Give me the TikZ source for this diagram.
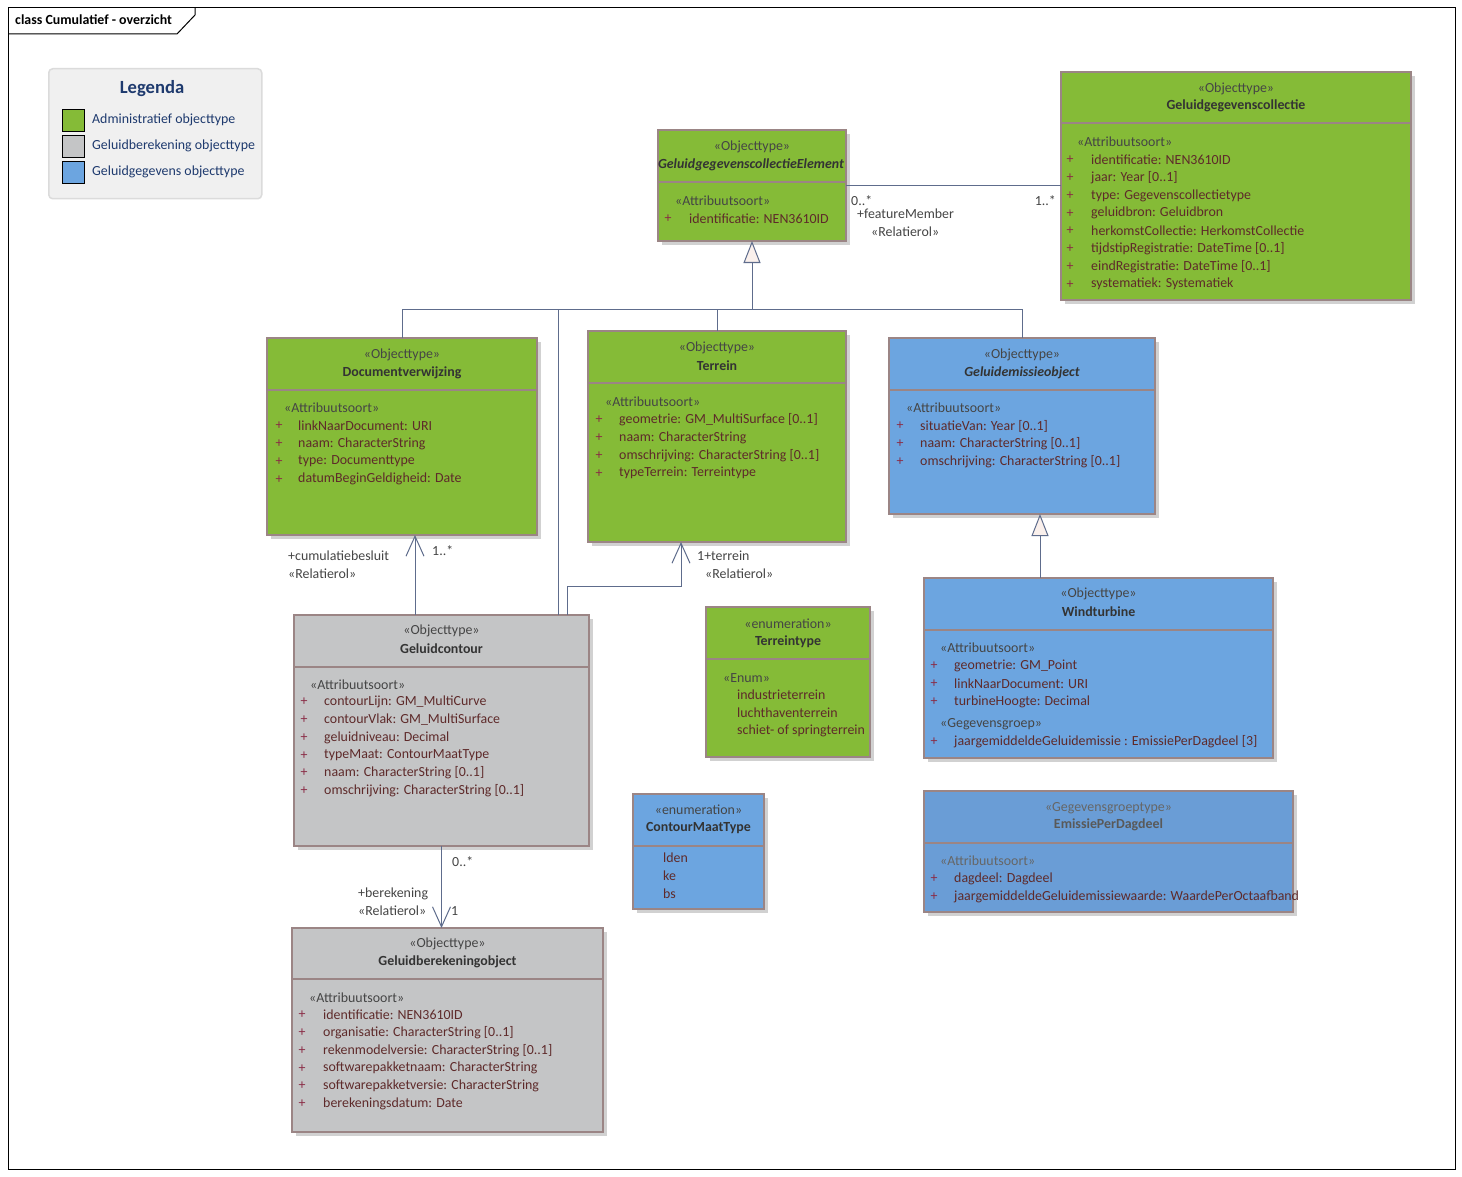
\documentclass[tikz,border=0pt]{standalone}
\usepackage{fontspec}
\setmainfont{Carlito}
\usetikzlibrary{arrows.meta,shadows,calc}
\definecolor{cgreen}{HTML}{85BB37}
\definecolor{cgrey}{HTML}{C4C5C6}
\definecolor{cblue}{HTML}{6CA5E0}
\definecolor{cbluetwo}{HTML}{6A9DD6}
\definecolor{cborder}{HTML}{9B8585}
\definecolor{cline}{HTML}{5E6C8C}
\definecolor{cattr}{HTML}{5E2A2A}
\definecolor{cplus}{HTML}{8A2B45}
\definecolor{cstereo}{HTML}{454545}
\definecolor{cname}{HTML}{333333}
\definecolor{cnavy}{HTML}{1E3A6E}
\definecolor{ctri}{HTML}{FAF0EC}
\newcommand\fs{\fontsize{13.9}{16}\selectfont}
\tikzset{
  box/.style={draw=cborder, anchor=north west, inner sep=0pt, outer sep=0pt,
    general shadow={fill=black!18, shadow xshift=4pt, shadow yshift=-4pt}},
  stereo/.style={text=cstereo, inner sep=0pt},
  cname/.style={text=cname, font=\fs\bfseries, inner sep=0pt},
  attr/.style={text=cattr, anchor=west, inner sep=0pt},
  plus/.style={text=cplus, inner sep=0pt},
  sect/.style={text=cstereo, anchor=west, inner sep=0pt},
  lbl/.style={text=cstereo, anchor=west, inner sep=0pt},
  conn/.style={draw=cline, line width=1pt},
  assoc/.style={conn, -{Straight Barb[length=20pt,width=18pt,line width=1pt]}},
  gen/.style={conn, -{Triangle[open,length=22pt,width=17pt,fill=ctri,line width=1pt]}},
}
\newcommand\umlclass[8]{%
  \node[box, fill=#7, line width=#8, minimum width={#4-#2}, minimum height={#5-#3}] (#1) at (#2,#3) {};
  \draw[draw=cborder, line width=#8] (#2,#6) -- (#4,#6);
}
\newcommand\umlattrs[5]{%
  \foreach \t [count=\i from 0] in {#5} {
    \node[plus] (#1-p\i) at (#2, {#4+\i*17.75}) {+};
    \node[attr] (#1-a\i) at (#3, {#4+\i*17.75}) {\t};
  }
}
\newcommand\umlitems[4]{%
  \foreach \t [count=\i from 0] in {#4} {
    \node[attr] (#1-a\i) at (#2, {#3+\i*17.75}) {\t};
  }
}
\begin{document}
\begin{tikzpicture}[x=1pt, y=-1pt, font=\fs]
\useasboundingbox (0,0) rectangle (1462,1177);
\fill[white] (0,0) rectangle (1462,1177);
% frame
\draw[line width=1pt] (8,8) rectangle (1455,1169);
\draw[line width=1pt] (8,34) -- (177,34) -- (195,15) -- (195,8);
\node[anchor=west, inner sep=0pt, font=\fs\bfseries] (title) at (15,20) {class Cumulatief - overzicht};

% legend
\node[draw=black!14, fill=black!6, rounded corners=4pt, line width=1.5pt, anchor=north west, minimum width=213, minimum height=130, inner sep=0pt] (leg) at (48,68) {};
\node[text=cnavy, font=\fontsize{18.6}{20}\selectfont\bfseries, inner sep=0pt] (legt) at (152,89) {Legenda};
\node[draw=black, line width=1pt, fill=cgreen, minimum size=22, anchor=north west, inner sep=0pt] (lg1) at (62,109) {};
\node[draw=black, line width=1pt, fill=cgrey, minimum size=22, anchor=north west, inner sep=0pt] (lg2) at (62,135) {};
\node[draw=black, line width=1pt, fill=cblue, minimum size=22, anchor=north west, inner sep=0pt] (lg3) at (62,161) {};
\node[text=cnavy, anchor=west, inner sep=0pt] (lgt1) at (92,120) {Administratief objecttype};
\node[text=cnavy, anchor=west, inner sep=0pt] (lgt2) at (92,146) {Geluidberekening objecttype};
\node[text=cnavy, anchor=west, inner sep=0pt] (lgt3) at (92,172) {Geluidgegevens objecttype};

% GeluidgegevenscollectieElement
\umlclass{gce}{658}{130}{846}{241}{182}{cgreen}{2.5pt}
\node[stereo] (gce-s) at (752,147) {«Objecttype»};
\node[cname, font=\fs\bfseries\itshape] (gce-n) at (751,165) {GeluidgegevenscollectieElement};
\node[sect] (gce-h) at (675,201) {«Attribuutsoort»};
\umlattrs{gce}{668}{689}{219}{identificatie: NEN3610ID}

% Geluidgegevenscollectie
\umlclass{gcol}{1061}{72}{1411}{300}{123}{cgreen}{1.2pt}
\node[stereo] (gcol-s) at (1236,89) {«Objecttype»};
\node[cname] (gcol-n) at (1236,106) {Geluidgegevenscollectie};
\node[sect] (gcol-h) at (1077,142) {«Attribuutsoort»};
\umlattrs{gcol}{1070}{1091}{160}{identificatie: NEN3610ID, jaar: Year [0..1], type: Gegevenscollectietype, geluidbron: Geluidbron, herkomstCollectie: HerkomstCollectie, tijdstipRegistratie: DateTime [0..1], eindRegistratie: DateTime [0..1], systematiek: Systematiek}

% Documentverwijzing
\umlclass{dv}{267}{338}{537}{535}{390}{cgreen}{2.5pt}
\node[stereo] (dv-s) at (402,355) {«Objecttype»};
\node[cname] (dv-n) at (402,373) {Documentverwijzing};
\node[sect] (dv-h) at (284,408) {«Attribuutsoort»};
\umlattrs{dv}{279}{298}{426}{linkNaarDocument: URI, naam: CharacterString, type: Documenttype, datumBeginGeldigheid: Date}

% Terrein
\umlclass{tr}{588}{331}{846}{542}{383}{cgreen}{2.5pt}
\node[stereo] (tr-s) at (717,348) {«Objecttype»};
\node[cname] (tr-n) at (717,366) {Terrein};
\node[sect] (tr-h) at (605,402) {«Attribuutsoort»};
\umlattrs{tr}{599}{619}{420}{geometrie: GM\_MultiSurface [0..1], naam: CharacterString, omschrijving: CharacterString [0..1], typeTerrein: Terreintype}

% Geluidemissieobject
\umlclass{geo}{889}{338}{1155}{514}{390}{cblue}{2.5pt}
\node[stereo] (geo-s) at (1022,355) {«Objecttype»};
\node[cname, font=\fs\bfseries\itshape] (geo-n) at (1022,373) {Geluidemissieobject};
\node[sect] (geo-h) at (906,408) {«Attribuutsoort»};
\umlattrs{geo}{900}{920}{426}{situatieVan: Year [0..1], naam: CharacterString [0..1], omschrijving: CharacterString [0..1]}

% Geluidcontour
\umlclass{gc}{294}{615}{589}{846}{667}{cgrey}{1.2pt}
\node[stereo] (gc-s) at (441.5,631) {«Objecttype»};
\node[cname] (gc-n) at (441.5,649) {Geluidcontour};
\node[sect] (gc-h) at (310,685) {«Attribuutsoort»};
\umlattrs{gc}{304}{324}{702}{contourLijn: GM\_MultiCurve, contourVlak: GM\_MultiSurface, geluidniveau: Decimal, typeMaat: ContourMaatType, naam: CharacterString [0..1], omschrijving: CharacterString [0..1]}

% Terreintype
\umlclass{tt}{706}{607}{870}{757}{659}{cgreen}{2.5pt}
\node[stereo] (tt-s) at (788,624) {«enumeration»};
\node[cname] (tt-n) at (788,642) {Terreintype};
\node[sect] (tt-h) at (723,678) {«Enum»};
\umlitems{tt}{737}{695}{industrieterrein, luchthaventerrein, schiet- of springterrein}

% ContourMaatType
\umlclass{cmt}{633}{794}{764}{909}{846}{cblue}{1.2pt}
\node[stereo] (cmt-s) at (698.5,810) {«enumeration»};
\node[cname] (cmt-n) at (698.5,828) {ContourMaatType};
\umlitems{cmt}{663}{858}{lden, ke, bs}

% Windturbine
\umlclass{wt}{924}{578}{1273}{758}{630}{cblue}{1.2pt}
\node[stereo] (wt-s) at (1098.5,594) {«Objecttype»};
\node[cname] (wt-n) at (1098.5,612) {Windturbine};
\node[sect] (wt-h) at (940,648) {«Attribuutsoort»};
\umlattrs{wt}{934}{954}{666}{geometrie: GM\_Point, linkNaarDocument: URI, turbineHoogte: Decimal}
\node[sect] (wt-h2) at (940,724) {«Gegevensgroep»};
\umlattrs{wtg}{934}{954}{742}{jaargemiddeldeGeluidemissie : EmissiePerDagdeel [3]}

% EmissiePerDagdeel
\umlclass{epd}{924}{791}{1293}{912}{843}{cbluetwo}{1.2pt}
\node[stereo, text=black!60] (epd-s) at (1108.5,808) {«Gegevensgroeptype»};
\node[cname, text=black!65] (epd-n) at (1108.5,825) {EmissiePerDagdeel};
\node[sect, text=black!60] (epd-h) at (940,861) {«Attribuutsoort»};
\umlattrs{epd}{934}{954}{879}{dagdeel: Dagdeel, jaargemiddeldeGeluidemissiewaarde: WaardePerOctaafband}

% Geluidberekeningobject
\umlclass{gbo}{292}{928}{603}{1132}{979}{cgrey}{1.2pt}
\node[stereo] (gbo-s) at (447.5,944) {«Objecttype»};
\node[cname] (gbo-n) at (447.5,962) {Geluidberekeningobject};
\node[sect] (gbo-h) at (309,998) {«Attribuutsoort»};
\umlattrs{gbo}{302}{323}{1015}{identificatie: NEN3610ID, organisatie: CharacterString [0..1], rekenmodelversie: CharacterString [0..1], softwarepakketnaam: CharacterString, softwarepakketversie: CharacterString, berekeningsdatum: Date}

% ---------- connectors ----------
% featureMember association
\draw[conn] (gce.east) -- (gcol.west |- gce.east);
\node[lbl] (l1) at (851,201) {0..*};
\node[lbl] (l2) at (857,214) {+featureMember};
\node[lbl] (l3) at (871,232) {«Relatierol»};
\node[lbl, anchor=east] (l4) at (1056,201) {1..*};

% generalisation tree
\coordinate (j) at (752,309);
\coordinate (gcg) at ($(gc.north west)+(264,0)$);
\draw[conn] (dv.north) -- (dv.north |- j) -- (geo.north |- j) -- (geo.north);
\draw[conn] (tr.north) -- (tr.north |- j);
\draw[conn] (gcg) -- (gcg |- j);
\draw[gen] (j) -- (gce.south);

% Windturbine -> Geluidemissieobject
\coordinate (wtg) at ($(wt.north west)+(116,0)$);
\draw[gen] (wtg) -- (wtg |- geo.south);

% Geluidcontour -> Documentverwijzing
\coordinate (gcd) at ($(gc.north west)+(121,0)$);
\draw[assoc] (gcd) -- (gcd |- dv.south);
\node[lbl] (l5) at (288,556) {+cumulatiebesluit};
\node[lbl] (l6) at (288,574) {«Relatierol»};
\node[lbl] (l7) at (432,551) {1..*};

% Geluidcontour -> Terrein
\coordinate (gct) at ($(gc.north west)+(273,0)$);
\coordinate (trb) at ($(tr.south west)+(93,0)$);
\draw[assoc] (gct) |- ($(trb)+(0,44)$) -- (trb);
\node[lbl] (l8) at (697,556) {1+terrein};
\node[lbl] (l9) at (705,574) {«Relatierol»};

% Geluidcontour -> Geluidberekeningobject
\draw[assoc] (gc.south) -- (gc.south |- gbo.north);
\node[lbl] (l10) at (452,862) {0..*};
\node[lbl] (l11) at (358,894) {+berekening};
\node[lbl] (l12) at (358,911) {«Relatierol»};
\node[lbl] (l13) at (451,911) {1};
\end{tikzpicture}
\end{document}
